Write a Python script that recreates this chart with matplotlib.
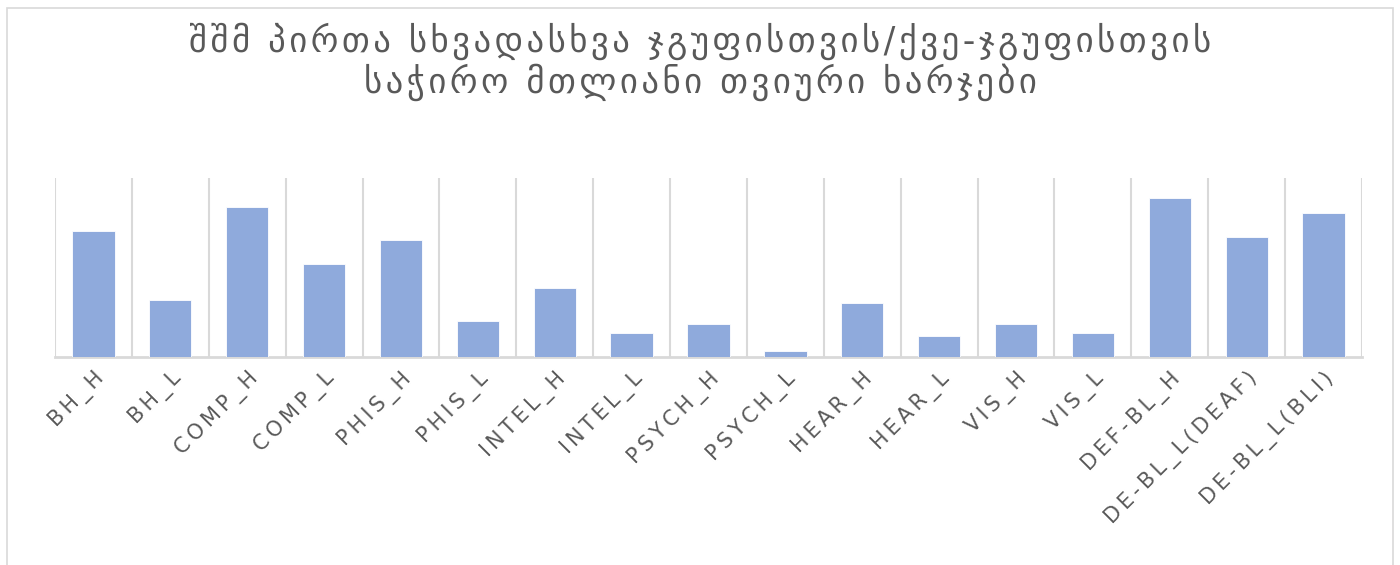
import numpy as np
import matplotlib
matplotlib.use('Agg')
import matplotlib.pyplot as plt
from matplotlib.patches import Rectangle

# Dati (valori stimati)
categories = ['BH_H', 'BH_L', 'COMP_H', 'COMP_L', 'PHIS_H', 'PHIS_L',
              'INTEL_H', 'INTEL_L', 'PSYCH_H', 'PSYCH_L', 'HEAR_H', 'HEAR_L',
              'VIS_H', 'VIS_L', 'DEF-BL_H', 'DE-BL_L(DEAF)', 'DE-BL_L(BLI)']
costs = [1268, 575, 1510, 935, 1177, 363,
         693, 242, 333, 65, 545, 216,
         333, 242, 1601, 1208, 1450]
y_max = 1800

title_lines = ['შშმ პირთა სხვადასხვა ჯგუფისთვის/ქვე-ჯგუფისთვის',
               'საჭირო მთლიანი თვიური ხარჯები']

bar_color = '#8FAADC'
grid_color = '#D9D9D9'
text_color = '#595959'


# Spaziatura tra le lettere come nel grafico originale
def spaced(s, sep='\u2009'):
    return sep.join(s)


fig = plt.figure(figsize=(14, 5.65), dpi=100)
ax = fig.add_axes([55 / 1400, 1 - 357 / 565, (1362 - 55) / 1400, (357 - 178.3) / 565])

x = np.arange(len(categories))
ax.bar(x, costs, width=0.55, color=bar_color, edgecolor='white', linewidth=0.6, zorder=3)

ax.set_xlim(-0.5, len(categories) - 0.5)
ax.set_ylim(0, y_max)

# Linee verticali tra le categorie
ax.set_xticks(np.arange(-0.5, len(categories)), minor=True)
ax.grid(which='minor', axis='x', color=grid_color, linewidth=1.5, zorder=0)
ax.tick_params(which='both', length=0)

ax.set_xticks(x)
ax.set_xticklabels([spaced(c) for c in categories], rotation=45, ha='right',
                   rotation_mode='anchor', fontsize=15, color=text_color,
                   family='DejaVu Sans')
ax.tick_params(axis='x', pad=8)
ax.set_yticks([])

for side in ['top', 'left', 'right']:
    ax.spines[side].set_visible(False)
ax.spines['bottom'].set_color(grid_color)
ax.spines['bottom'].set_linewidth(2)

# Titolo su due righe
fig.text(0.5, 1 - 41 / 565, spaced(title_lines[0], '\u200a'), ha='center', va='center',
         fontsize=25, color=text_color, family='DejaVu Sans')
fig.text(0.5, 1 - 82 / 565, spaced(title_lines[1], '\u200a'), ha='center', va='center',
         fontsize=25, color=text_color, family='DejaVu Sans')

# Bordo del grafico
fig.patches.append(Rectangle((7 / 1400, -0.02), (1393 - 7) / 1400, 1.02 - 8 / 565,
                             transform=fig.transFigure, fill=False,
                             edgecolor=grid_color, linewidth=1.2))

fig.savefig('out.png', dpi=100)
